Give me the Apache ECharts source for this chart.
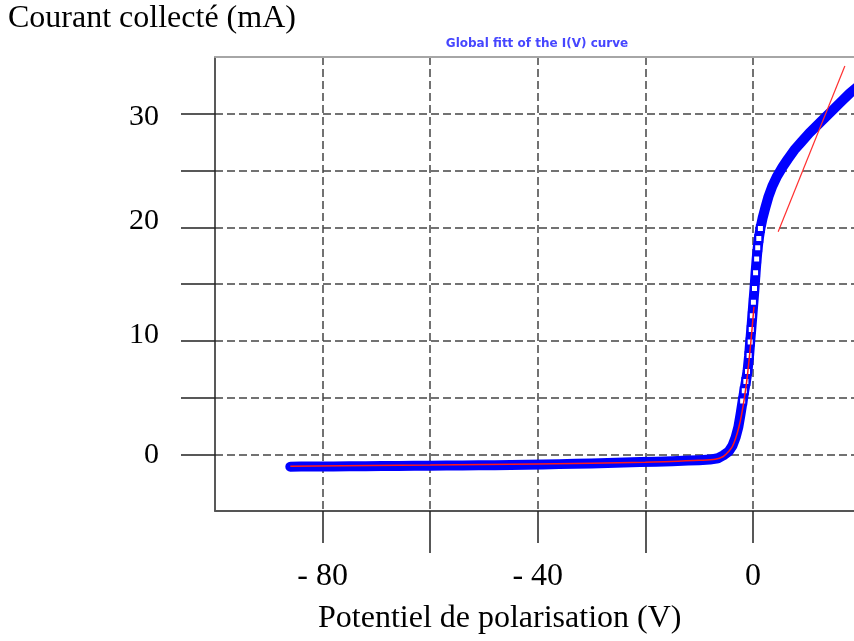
<!DOCTYPE html>
<html>
<head>
<meta charset="utf-8">
<title>Global fitt of the I(V) curve</title>
<script src="https://cdn.jsdelivr.net/npm/echarts@6/dist/echarts.min.js"></script>
<style>
  html, body { margin: 0; padding: 0; background: #fff; }
  #chart { width: 854px; height: 641px; }
</style>
</head>
<body>
<div id="chart"></div>
<script>
// mesures (points bleus) : tension de polarisation (V) et courant collecté (mA)
const biasV = [-86, -84, -81, -78, -75, -72, -69, -66, -63, -60, -57, -54, -51, -48, -45, -42,
  -39, -36, -33, -30, -27, -24, -21, -18, -15, -12, -10, -8, -6.5, -5.5, -4.5, -3.8, -3.2,
  -2.7, -2.3, -1.9, -1.6, -1.3, -1.0, -0.7, -0.5, -0.3, -0.1, 0.1, 0.3, 0.5, 0.7, 0.9, 1.1,
  1.4, 1.8, 2.3, 2.9, 3.6, 4.5, 5.5, 6.5, 7.7, 9, 10.5, 12, 13.5, 15, 16.5, 18, 19.5]
const currentMA = [-1.10, -1.09, -1.08, -1.07, -1.06, -1.05, -1.04, -1.03, -1.02, -1.01, -1.00,
  -0.99, -0.98, -0.96, -0.94, -0.92, -0.90, -0.87, -0.84, -0.81, -0.77, -0.73, -0.69, -0.65,
  -0.61, -0.56, -0.52, -0.47, -0.35, -0.10, 0.25, 0.75, 1.5, 2.4, 3.5, 4.7, 5.6, 6.4, 7.3,
  8.7, 9.9, 11.0, 12.2, 13.4, 14.6, 16.0, 17.2, 18.2, 19.0, 19.9, 20.8, 21.7, 22.7, 23.6,
  24.5, 25.3, 26.0, 26.8, 27.5, 28.3, 29.0, 29.7, 30.4, 31.1, 31.8, 32.4]

// ajustement global (rouge)
const fitV = [-86, -60, -40, -20, -10, -7, -5.5, -4.5, -3.8, -3.2, -2.6, -2.1, -1.6, -1.1, -0.6, -0.2, 0.2]
const fitI = [-1.05, -0.95, -0.85, -0.70, -0.53, -0.45, -0.20, 0.25, 0.70, 1.4, 2.4, 3.5, 4.9, 6.6, 8.8, 10.8, 13.0]

// droite de saturation électronique
const satV = [4.7, 17.1]
const satI = [19.6, 34.2]

// graduations
const xTickMain = [-80, -40, 0]
const xTickMid = [-60, -20]
const yTicks = [0, 5, 10, 15, 20, 25, 30]
const yLabels = [0, 10, 20, 30]

const serif = "'Liberation Serif', 'Times New Roman', serif"
const gridDash = { color: '#444', width: 1.5, type: [8, 4] }

const pairs = (xs, ys) => xs.map((x, i) => [x, ys[i]])

// carrés creux visibles seulement sur la partie raide de la courbe
const measured = biasV.map((v, i) => {
    const show = v >= -2 && v <= 1.4
    return { value: [v, currentMA[i]], symbol: show ? 'emptyRect' : 'none' }
})

// dans l'original les chiffres de l'axe vertical ne sont pas tout à fait alignés sur les traits
const yLabelStyle = v => v === 30 ? 'low' : (v === 0 ? 'mid' : 'high')

const chart = echarts.init(document.getElementById('chart'), null, { renderer: 'canvas' })

// la courbe est coupée à droite : l'axe s'arrête vers +18.8 V au bord de l'image
const xBase = {
    type: 'value',
    min: -100,
    max: 18.8,
    interval: 20,
    gridIndex: 0
}

chart.setOption({
    animation: false,
    backgroundColor: '#fff',
    grid: { left: 215, right: 0, top: 57, bottom: 130 },
    xAxis: [
        Object.assign({}, xBase, {
            position: 'bottom',
            axisLine: { onZero: false, lineStyle: { color: '#555', width: 2 } },
            axisTick: { customValues: xTickMain, length: 32, lineStyle: { color: '#222', width: 1.5 } },
            axisLabel: {
                customValues: xTickMain,
                margin: 50,
                color: '#000',
                fontFamily: serif,
                fontSize: 32,
                formatter: v => v < 0 ? '- ' + Math.abs(v) : String(v)
            },
            splitLine: { show: true, lineStyle: gridDash }
        }),
        Object.assign({}, xBase, {
            position: 'bottom',
            axisLine: { show: false, onZero: false },
            axisTick: { customValues: xTickMid, length: 42, lineStyle: { color: '#222', width: 1.5 } },
            axisLabel: { show: false },
            splitLine: { show: true, lineStyle: gridDash }
        }),
        Object.assign({}, xBase, {
            position: 'top',
            axisLine: { show: true, onZero: false, lineStyle: { color: '#a6a6a6', width: 2 } },
            axisTick: { show: false },
            axisLabel: { show: false },
            splitLine: { show: false }
        })
    ],
    yAxis: {
        type: 'value',
        min: -5,
        max: 35,
        interval: 5,
        axisLine: { show: true, onZero: false, lineStyle: { color: '#222', width: 1.5 } },
        axisTick: { show: true, customValues: yTicks, length: 34, lineStyle: { color: '#222', width: 1.5 } },
        axisLabel: {
            customValues: yLabels,
            margin: 56,
            color: '#000',
            fontFamily: serif,
            fontSize: 30,
            formatter: v => '{' + yLabelStyle(v) + '|' + v + '}',
            rich: {
                low: { fontFamily: serif, fontSize: 30, padding: [6, 0, 0, 0] },
                mid: { fontFamily: serif, fontSize: 30, padding: [2, 0, 0, 0] },
                high: { fontFamily: serif, fontSize: 30, padding: [0, 0, 12, 0] }
            }
        },
        splitLine: { show: true, lineStyle: gridDash }
    },
    graphic: [
        {
            type: 'text', left: 8, top: 3,
            style: { text: 'Courant collecté (mA)', font: '32px ' + serif, fill: '#000' }
        },
        {
            type: 'text', left: 318, top: 603,
            style: { text: 'Potentiel de polarisation (V)', font: '32px ' + serif, fill: '#000' }
        },
        {
            type: 'text', x: 537, y: 44,
            style: {
                text: 'Global fitt of the I(V) curve',
                font: 'bold 12px "DejaVu Sans", sans-serif',
                fill: '#4646ff',
                align: 'center',
                verticalAlign: 'middle'
            }
        }
    ],
    series: [
        {
            name: 'mesures',
            type: 'line',
            data: measured,
            symbolSize: 7,
            showAllSymbol: true,
            lineStyle: { color: '#0000ff', width: 10, cap: 'round', join: 'round' },
            itemStyle: { color: '#0000ff', borderColor: '#0000ff', borderWidth: 2 },
            z: 2
        },
        {
            name: 'ajustement',
            type: 'line',
            data: pairs(fitV, fitI),
            symbol: 'none',
            smooth: 0.3,
            lineStyle: { color: '#ff1a1a', width: 1.5 },
            z: 3
        },
        {
            name: 'saturation',
            type: 'line',
            data: pairs(satV, satI),
            symbol: 'none',
            lineStyle: { color: '#ff3030', width: 1.2 },
            z: 3
        }
    ]
})
</script>
</body>
</html>
